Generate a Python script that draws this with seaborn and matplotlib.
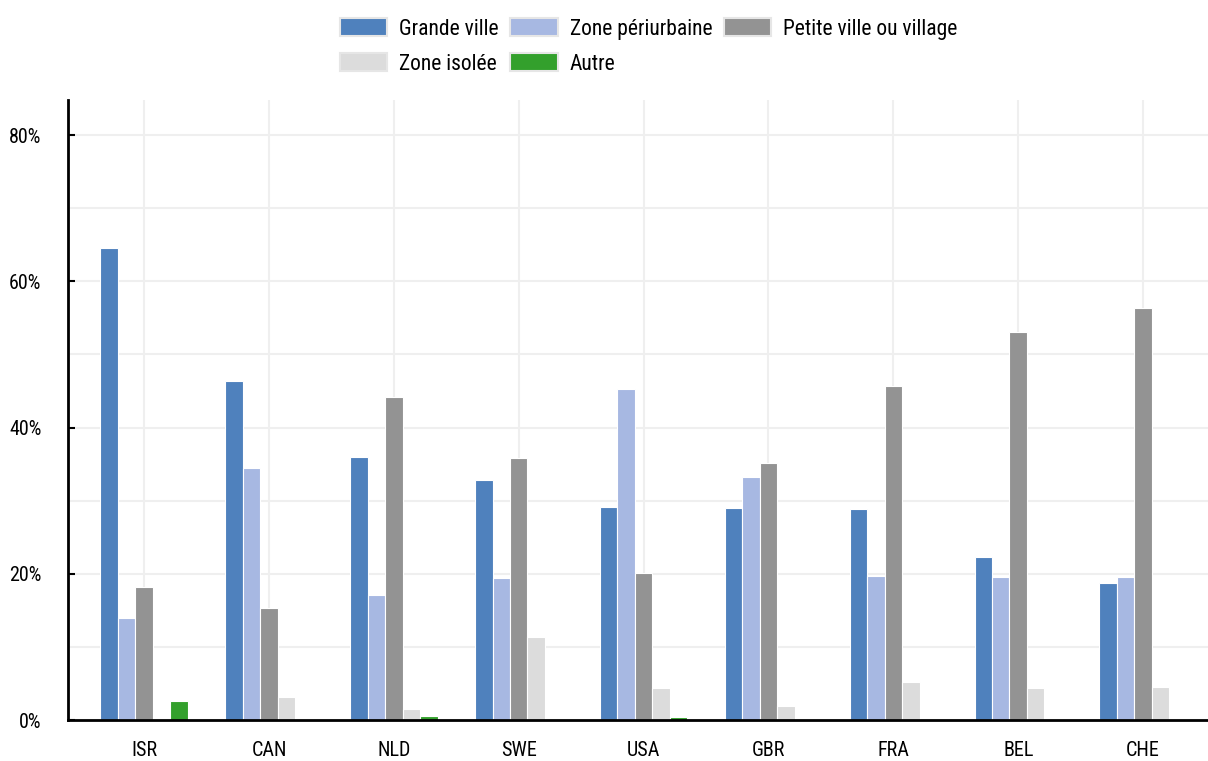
import matplotlib
matplotlib.use("Agg")
import matplotlib.pyplot as plt
from matplotlib.ticker import MultipleLocator, FuncFormatter
import seaborn as sns
import pandas as pd

# Share of respondents by type of residential area, per country (%)
countries = ["ISR", "CAN", "NLD", "SWE", "USA", "GBR", "FRA", "BEL", "CHE"]
grande_ville = [64.5, 46.4, 36.0, 32.8, 29.1, 29.0, 28.9, 22.3, 18.7]
zone_periurbaine = [13.9, 34.5, 17.1, 19.4, 45.3, 33.2, 19.7, 19.6, 19.6]
petite_ville = [18.2, 15.3, 44.2, 35.8, 20.1, 35.1, 45.7, 53.1, 56.3]
zone_isolee = [0.0, 3.1, 1.5, 11.4, 4.4, 1.9, 5.2, 4.4, 4.5]
autre = [2.6, 0.2, 0.5, 0.0, 0.4, 0.1, 0.0, 0.1, 0.1]

series_names = ["Grande ville", "Zone périurbaine", "Petite ville ou village",
                "Zone isolée", "Autre"]
series_values = [grande_ville, zone_periurbaine, petite_ville, zone_isolee, autre]
colors = ["#4f81bd", "#a7b8e2", "#939393", "#dcdcdc", "#33a02c"]

rows = []
for name, vals in zip(series_names, series_values):
    for c, v in zip(countries, vals):
        rows.append({"pays": c, "zone": name, "valeur": v})
df = pd.DataFrame(rows)

sns.set_theme(style="white")
plt.rcParams["font.family"] = ["Roboto Condensed", "Archivo Narrow", "Liberation Sans", "DejaVu Sans"]
plt.rcParams["text.color"] = "black"

fig = plt.figure(figsize=(12.08, 7.61), dpi=100)
ax = fig.add_axes([68 / 1208, 1 - 720 / 761, 1 - 68 / 1208, (720 - 100) / 761])

sns.barplot(data=df, x="pays", y="valeur", hue="zone", order=countries,
            hue_order=series_names, palette=colors, saturation=1, width=0.7,
            edgecolor="white", linewidth=0.8, ax=ax, legend=True)

ax.set_xlim(-0.61, 8.52)
ax.set_ylim(0, 84.8)
ax.yaxis.set_major_locator(MultipleLocator(20))
ax.yaxis.set_minor_locator(MultipleLocator(10))
ax.yaxis.set_major_formatter(FuncFormatter(lambda v, p: f"{v:.0f}%"))
ax.set_xlabel("")
ax.set_ylabel("")

ax.set_axisbelow(True)
ax.grid(True, which="both", axis="y", color="#efefef", linewidth=1.5)
ax.grid(True, which="major", axis="x", color="#efefef", linewidth=1.5)

ax.tick_params(axis="y", which="major", direction="in", length=5, width=1.5,
               color="black", pad=19, labelsize=14.5, labelcolor="black", left=True)
ax.tick_params(axis="y", which="minor", length=0)
ax.tick_params(axis="x", which="major", direction="in", length=5, width=1.5,
               color="black", pad=15, labelsize=14.5, labelcolor="black", bottom=True)

for s in ["top", "right"]:
    ax.spines[s].set_visible(False)
for s in ["left", "bottom"]:
    ax.spines[s].set_color("black")
    ax.spines[s].set_linewidth(2)

handles, labels = ax.get_legend_handles_labels()
ax.get_legend().remove()
# legend fills column by column; this order reads row by row
order = [0, 3, 1, 4, 2]
leg = fig.legend([handles[i] for i in order], [labels[i] for i in order],
                 loc="upper center", bbox_to_anchor=(0.537, 1.002), ncol=3,
                 frameon=False, fontsize=15.5, handlelength=2.2, handleheight=0.95,
                 handletextpad=0.55, columnspacing=0.55, labelspacing=0.62)
for h in leg.legend_handles:
    h.set_edgecolor("#e6e6e6")
    h.set_linewidth(1.5)
for t in leg.get_texts():
    t.set_color("black")

fig.savefig("out.png", dpi=100)
